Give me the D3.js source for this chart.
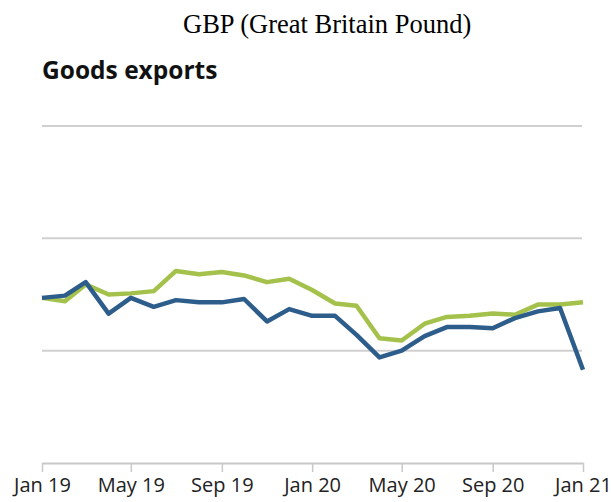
<!DOCTYPE html>
<html>
<head>
<meta charset="utf-8">
<script src="https://cdn.jsdelivr.net/npm/d3@7"></script>
<style>
  body { margin: 0; background: #fff; }
  svg { display: block; }
</style>
</head>
<body>
<svg id="chart" width="611" height="502"></svg>
<script>
// monthly values, Jan 19 .. Jan 21 (arbitrary units)
const months = d3.range(25).map(i => new Date(2019, i, 1));
const seriesGreen = [14.7, 14.4, 15.9, 15.0, 15.1, 15.3, 17.1, 16.8, 17.0, 16.7, 16.1, 16.4,
  15.4, 14.2, 14.0, 11.1, 10.9, 12.4, 13.0, 13.1, 13.3, 13.2, 14.1, 14.1, 14.3];
const seriesBlue = [14.7, 14.9, 16.1, 13.3, 14.7, 13.9, 14.5, 14.3, 14.3, 14.6, 12.6, 13.7,
  13.1, 13.1, 11.4, 9.4, 10.0, 11.3, 12.1, 12.1, 12.0, 12.9, 13.5, 13.8, 8.3];
const gridValues = [10, 20, 30];
const tickDates = d3.range(0, 25, 4).map(i => new Date(2019, i, 1));

const svg = d3.select('#chart');

const x = d3.scaleTime()
  .domain([months[0], months[months.length - 1]])
  .range([42, 583]);
const y = d3.scaleLinear()
  .domain([0, 30])
  .range([463, 126]);

// titles
svg.append('text')
  .attr('x', 183).attr('y', 33)
  .attr('font-family', 'Liberation Serif, Times New Roman, serif')
  .attr('font-size', 26.5)
  .attr('fill', '#000')
  .text('GBP (Great Britain Pound)');

svg.append('text')
  .attr('x', 42).attr('y', 79)
  .attr('font-family', 'Open Sans, sans-serif')
  .attr('font-weight', 'bold')
  .attr('font-size', 24.5)
  .attr('fill', '#111')
  .text('Goods exports');

// gridlines
svg.append('g')
  .selectAll('line')
  .data(gridValues)
  .join('line')
  .attr('x1', 42).attr('x2', 582)
  .attr('y1', d => y(d)).attr('y2', d => y(d))
  .attr('stroke', '#d0d0d0')
  .attr('stroke-width', 2);

// x axis
const xAxis = d3.axisBottom(x)
  .tickValues(tickDates)
  .tickFormat(d3.timeFormat('%b %y'))
  .tickSize(9)
  .tickSizeOuter(0)
  .tickPadding(6);

const gx = svg.append('g')
  .attr('transform', `translate(0,${y(0)})`)
  .call(xAxis);
gx.select('.domain').attr('stroke', '#c8c8c8').attr('stroke-width', 2);
gx.selectAll('.tick line').attr('stroke', '#c8c8c8').attr('stroke-width', 1.5);
gx.selectAll('.tick text')
  .attr('font-family', 'Open Sans, sans-serif')
  .attr('font-size', 20)
  .attr('fill', '#222');

// lines
const line = d3.line()
  .x((d, i) => x(months[i]))
  .y(d => y(d));

svg.append('path')
  .datum(seriesGreen)
  .attr('d', line)
  .attr('fill', 'none')
  .attr('stroke', '#a4c14b')
  .attr('stroke-width', 4.5)
  .attr('stroke-linejoin', 'round');

svg.append('path')
  .datum(seriesBlue)
  .attr('d', line)
  .attr('fill', 'none')
  .attr('stroke', '#2d5d8b')
  .attr('stroke-width', 4.5)
  .attr('stroke-linejoin', 'round');
</script>
</body>
</html>
